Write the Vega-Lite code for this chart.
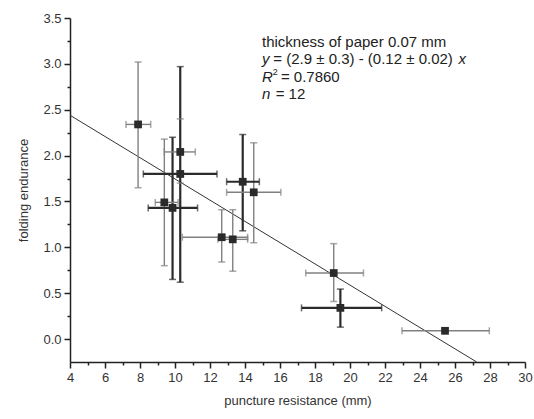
{
  "$schema": "https://vega.github.io/schema/vega-lite/v6.json",
  "autosize": "none",
  "width": 455,
  "height": 344,
  "padding": {"left": 70, "top": 18, "right": 9, "bottom": 57},
  "background": "white",
  "config": {
    "view": {"stroke": null},
    "font": "Liberation Sans",
    "axis": {
      "grid": false,
      "domainColor": "#222",
      "domainWidth": 1.5,
      "tickColor": "#222",
      "tickWidth": 1.5,
      "labelFont": "Liberation Sans",
      "labelFontSize": 13,
      "labelColor": "#333",
      "titleFont": "Liberation Sans",
      "titleFontSize": 13,
      "titleFontWeight": "normal",
      "titleColor": "#333"
    }
  },
  "datasets": {
    "pts": [
      {"id": "A", "x": 7.89, "y": 2.34, "xlo": 7.2, "xhi": 8.61, "ylo": 1.65, "yhi": 3.02, "tone": "light"},
      {"id": "B", "x": 10.3, "y": 2.04, "xlo": 9.39, "xhi": 11.16, "ylo": 1.7, "yhi": 2.4, "tone": "light"},
      {"id": "C", "x": 10.3, "y": 1.8, "xlo": 8.19, "xhi": 12.4, "ylo": 0.62, "yhi": 2.97, "tone": "dark"},
      {"id": "D", "x": 9.39, "y": 1.49, "xlo": 8.87, "xhi": 10.18, "ylo": 0.8, "yhi": 2.18, "tone": "light"},
      {"id": "E", "x": 9.86, "y": 1.43, "xlo": 8.47, "xhi": 11.29, "ylo": 0.65, "yhi": 2.2, "tone": "dark"},
      {"id": "F", "x": 13.87, "y": 1.715, "xlo": 12.95, "xhi": 14.82, "ylo": 1.18, "yhi": 2.23, "tone": "dark"},
      {"id": "G", "x": 14.5, "y": 1.6, "xlo": 12.95, "xhi": 16.05, "ylo": 1.05, "yhi": 2.14, "tone": "light"},
      {"id": "H", "x": 12.67, "y": 1.11, "xlo": 10.42, "xhi": 14.15, "ylo": 0.84, "yhi": 1.41, "tone": "light"},
      {"id": "I", "x": 13.3, "y": 1.087, "xlo": 12.45, "xhi": 14.15, "ylo": 0.74, "yhi": 1.41, "tone": "light"},
      {"id": "J", "x": 19.07, "y": 0.72, "xlo": 17.47, "xhi": 20.77, "ylo": 0.41, "yhi": 1.04, "tone": "light"},
      {"id": "K", "x": 19.45, "y": 0.34, "xlo": 17.23, "xhi": 21.81, "ylo": 0.13, "yhi": 0.545, "tone": "dark"},
      {"id": "L", "x": 25.43, "y": 0.09, "xlo": 22.97, "xhi": 27.96, "ylo": 0.09, "yhi": 0.09, "tone": "light"}
    ],
    "fit": [
      {"x": 4, "y": 2.44},
      {"x": 27.24, "y": -0.25}
    ],
    "notes": [
      {"x": 14.97, "y": 3.24, "text": "thickness of paper 0.07 mm", "italic": false},
      {"x": 14.97, "y": 3.05, "text": "y", "italic": true},
      {"x": 15.62, "y": 3.05, "text": "= (2.9 ± 0.3) - (0.12 ± 0.02)", "italic": false},
      {"x": 26.2, "y": 3.05, "text": "x", "italic": true},
      {"x": 14.97, "y": 2.86, "text": "R", "italic": true},
      {"x": 15.58, "y": 2.91, "text": "2", "italic": false, "small": true},
      {"x": 16.05, "y": 2.86, "text": "= 0.7860", "italic": false},
      {"x": 14.97, "y": 2.67, "text": "n", "italic": true},
      {"x": 15.75, "y": 2.67, "text": "= 12", "italic": false}
    ]
  },
  "encoding": {
    "x": {
      "field": "x", "type": "quantitative",
      "scale": {"domain": [4, 30], "nice": false, "zero": false},
      "axis": {
        "title": "puncture resistance (mm)",
        "titlePadding": 10,
        "values": [4,5,6,7,8,9,10,11,12,13,14,15,16,17,18,19,20,21,22,23,24,25,26,27,28,29,30],
        "labelExpr": "datum.value % 2 === 0 ? datum.label : ''",
        "tickSize": {"condition": {"test": "datum.value % 2 === 0", "value": 6}, "value": 3},
        "labelPadding": 3,
        "labelFlush": false
      }
    },
    "y": {
      "field": "y", "type": "quantitative",
      "scale": {"domain": [-0.25, 3.5], "nice": false, "zero": false},
      "axis": {
        "title": "folding endurance",
        "titlePadding": 12,
        "values": [0, 0.25, 0.5, 0.75, 1, 1.25, 1.5, 1.75, 2, 2.25, 2.5, 2.75, 3, 3.25, 3.5],
        "labelExpr": "abs(datum.value*2 - round(datum.value*2)) < 0.001 ? format(datum.value, '.1f') : ''",
        "tickSize": {"condition": {"test": "abs(datum.value*2 - round(datum.value*2)) < 0.001", "value": 6}, "value": 3},
        "labelPadding": 3,
        "labelFlush": false
      }
    }
  },
  "layer": [
    {
      "data": {"name": "fit"},
      "mark": {"type": "line", "color": "#333", "strokeWidth": 1},
      "encoding": {}
    },
    {
      "data": {"name": "pts"},
      "transform": [{"filter": "datum.yhi > datum.ylo"}],
      "mark": {"type": "rule"},
      "encoding": {
        "y": {"field": "ylo", "type": "quantitative"},
        "y2": {"field": "yhi"},
        "color": {"field": "tone", "type": "nominal", "scale": {"domain": ["dark", "light"], "range": ["#2b2b2b", "#808080"]}, "legend": null},
        "strokeWidth": {"field": "tone", "type": "nominal", "scale": {"domain": ["dark", "light"], "range": [2.2, 1.4]}, "legend": null}
      }
    },
    {
      "data": {"name": "pts"},
      "mark": {"type": "rule"},
      "encoding": {
        "x": {"field": "xlo", "type": "quantitative"},
        "x2": {"field": "xhi"},
        "color": {"field": "tone", "type": "nominal", "scale": {"domain": ["dark", "light"], "range": ["#2b2b2b", "#808080"]}, "legend": null},
        "strokeWidth": {"field": "tone", "type": "nominal", "scale": {"domain": ["dark", "light"], "range": [2.2, 1.4]}, "legend": null}
      }
    },
    {
      "data": {"name": "pts"},
      "transform": [{"filter": "datum.yhi > datum.ylo"}],
      "mark": {"type": "tick", "orient": "horizontal", "size": 7, "thickness": 1.5},
      "encoding": {
        "y": {"field": "ylo", "type": "quantitative"},
        "color": {"field": "tone", "type": "nominal", "scale": {"domain": ["dark", "light"], "range": ["#2b2b2b", "#808080"]}, "legend": null}
      }
    },
    {
      "data": {"name": "pts"},
      "transform": [{"filter": "datum.yhi > datum.ylo"}],
      "mark": {"type": "tick", "orient": "horizontal", "size": 7, "thickness": 1.5},
      "encoding": {
        "y": {"field": "yhi", "type": "quantitative"},
        "color": {"field": "tone", "type": "nominal", "scale": {"domain": ["dark", "light"], "range": ["#2b2b2b", "#808080"]}, "legend": null}
      }
    },
    {
      "data": {"name": "pts"},
      "mark": {"type": "tick", "orient": "vertical", "size": 7, "thickness": 1.5},
      "encoding": {
        "x": {"field": "xlo", "type": "quantitative"},
        "color": {"field": "tone", "type": "nominal", "scale": {"domain": ["dark", "light"], "range": ["#2b2b2b", "#808080"]}, "legend": null}
      }
    },
    {
      "data": {"name": "pts"},
      "mark": {"type": "tick", "orient": "vertical", "size": 7, "thickness": 1.5},
      "encoding": {
        "x": {"field": "xhi", "type": "quantitative"},
        "color": {"field": "tone", "type": "nominal", "scale": {"domain": ["dark", "light"], "range": ["#2b2b2b", "#808080"]}, "legend": null}
      }
    },
    {
      "data": {"name": "pts"},
      "mark": {"type": "point", "shape": "square", "filled": true, "size": 60, "color": "#2a2a2a", "opacity": 1},
      "encoding": {}
    },
    {
      "data": {"name": "notes"},
      "transform": [{"filter": "!datum.italic && !datum.small"}],
      "mark": {"type": "text", "align": "left", "baseline": "middle", "font": "Liberation Sans", "fontSize": 15, "color": "#222"},
      "encoding": {"text": {"field": "text"}}
    },
    {
      "data": {"name": "notes"},
      "transform": [{"filter": "datum.italic"}],
      "mark": {"type": "text", "align": "left", "baseline": "middle", "font": "Liberation Sans", "fontSize": 15, "fontStyle": "italic", "color": "#222"},
      "encoding": {"text": {"field": "text"}}
    },
    {
      "data": {"name": "notes"},
      "transform": [{"filter": "datum.small"}],
      "mark": {"type": "text", "align": "left", "baseline": "middle", "font": "Liberation Sans", "fontSize": 9, "color": "#222"},
      "encoding": {"text": {"field": "text"}}
    }
  ]
}
